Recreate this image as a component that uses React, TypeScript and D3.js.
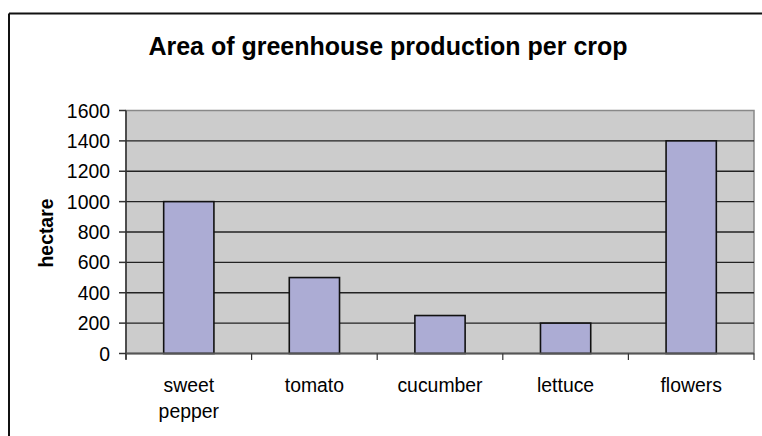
import React from "react";
import * as d3 from "d3";

const categories: string[][] = [["sweet", "pepper"], ["tomato"], ["cucumber"], ["lettuce"], ["flowers"]];
const values: number[] = [1000, 500, 250, 200, 1400];
const yTicks: number[] = [0, 200, 400, 600, 800, 1000, 1200, 1400, 1600];
const title = "Area of greenhouse production per crop";
const yLabel = "hectare";

const W = 762;
const H = 436;
const plot = { left: 126, right: 754, top: 110.5, bottom: 353.5 };

export default function App() {
  const x = d3
    .scaleBand<number>()
    .domain(d3.range(categories.length))
    .range([plot.left, plot.right])
    .paddingInner(0.6)
    .paddingOuter(0.3);
  const xBand = d3
    .scaleBand<number>()
    .domain(d3.range(categories.length))
    .range([plot.left, plot.right]);
  const y = d3.scaleLinear().domain([0, 1600]).range([plot.bottom, plot.top]);
  const font = "Liberation Sans, Arial, sans-serif";
  const bounds = d3.range(categories.length + 1).map((i) =>
    i < categories.length ? (xBand(i) as number) : plot.right
  );

  return (
    <svg
      width={W}
      height={H}
      style={{ position: "absolute", left: 0, top: 0, background: "#fff" }}
      fontFamily={font}
    >
      {/* outer chart border (top and left visible) */}
      <line x1={9} y1={13.5} x2={W} y2={13.5} stroke="#111" strokeWidth={2} />
      <line x1={9} y1={13.5} x2={9} y2={H} stroke="#111" strokeWidth={2} />

      <text x={388} y={55} textAnchor="middle" fontSize={25} fontWeight="bold" fill="#000">
        {title}
      </text>

      {/* plot background */}
      <rect
        x={plot.left}
        y={plot.top}
        width={plot.right - plot.left}
        height={plot.bottom - plot.top}
        fill="#cccccc"
        stroke="#888"
        strokeWidth={1.5}
      />
      {/* gridlines */}
      {yTicks
        .filter((t) => t > 0 && t < 1600)
        .map((t) => (
          <line key={t} x1={plot.left} x2={plot.right} y1={y(t)} y2={y(t)} stroke="#222" strokeWidth={1.3} />
        ))}

      {/* bars */}
      {values.map((v, i) => (
        <rect
          key={i}
          x={x(i)}
          y={y(v)}
          width={x.bandwidth()}
          height={y(0) - y(v)}
          fill="#acacd4"
          stroke="#111"
          strokeWidth={1.6}
        />
      ))}

      {/* y axis */}
      <line x1={plot.left} x2={plot.left} y1={plot.top} y2={plot.bottom + 6} stroke="#333" strokeWidth={1.5} />
      {yTicks.map((t) => (
        <g key={t}>
          <line x1={plot.left - 7} x2={plot.left} y1={y(t)} y2={y(t)} stroke="#333" strokeWidth={1.5} />
          <text x={110} y={y(t) + 7} textAnchor="end" fontSize={19.4} fill="#000">
            {t}
          </text>
        </g>
      ))}

      {/* x axis */}
      <line x1={plot.left} x2={plot.right} y1={plot.bottom} y2={plot.bottom} stroke="#555" strokeWidth={1.8} />
      {bounds.map((b, i) => (
        <line key={i} x1={b} x2={b} y1={plot.bottom} y2={plot.bottom + 6.5} stroke="#333" strokeWidth={1.2} />
      ))}
      {categories.map((lines, i) => (
        <text
          key={i}
          x={(xBand(i) as number) + xBand.bandwidth() / 2}
          y={392}
          textAnchor="middle"
          fontSize={19.4}
          fill="#000"
        >
          {lines.map((l, j) => (
            <tspan key={j} x={(xBand(i) as number) + xBand.bandwidth() / 2} dy={j === 0 ? 0 : 26}>
              {l}
            </tspan>
          ))}
        </text>
      ))}

      <text
        transform={`translate(53,233) rotate(-90)`}
        textAnchor="middle"
        fontSize={19.4}
        fontWeight="bold"
        fill="#000"
      >
        {yLabel}
      </text>
    </svg>
  );
}
